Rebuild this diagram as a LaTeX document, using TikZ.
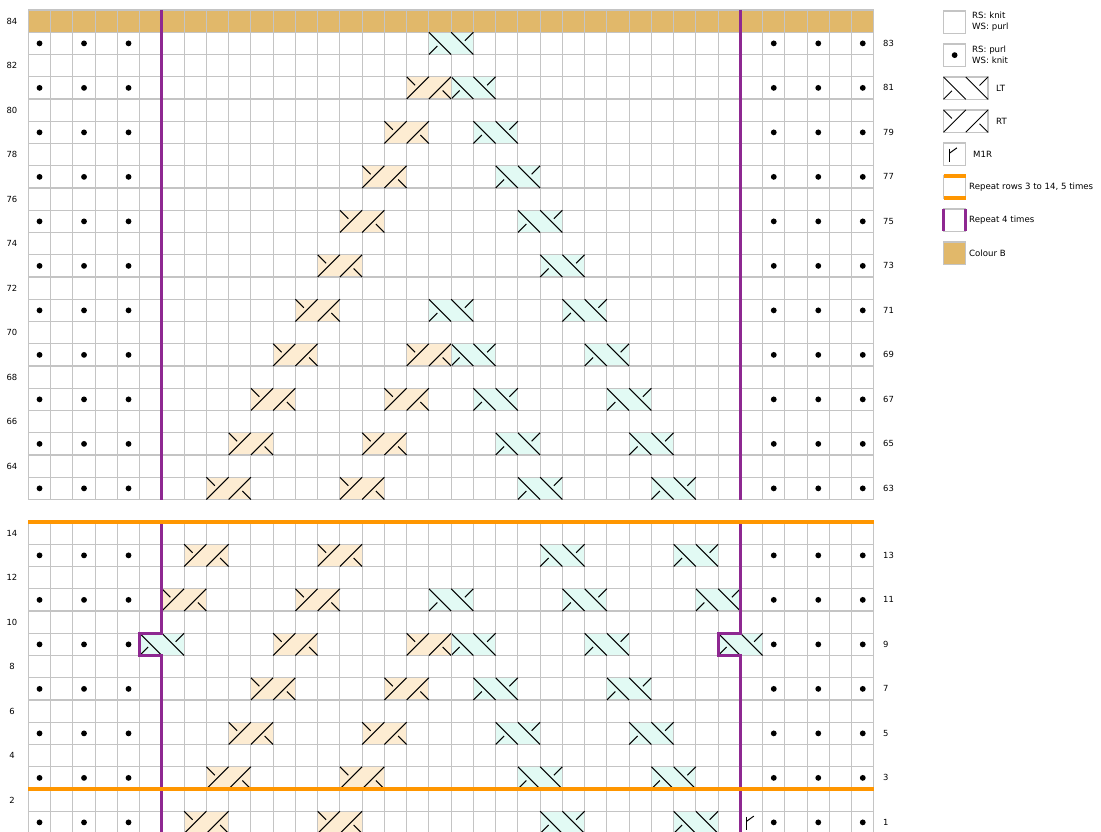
\documentclass[tikz,border=0pt]{standalone}
\usepackage{fontspec}
\setmainfont{DejaVu Sans}
\definecolor{gridgray}{RGB}{196,196,196}
\definecolor{colB}{RGB}{225,184,106}
\definecolor{ltfill}{RGB}{226,250,244}
\definecolor{rtfill}{RGB}{253,236,210}
\definecolor{rptpurple}{RGB}{142,40,145}
\definecolor{rptorange}{RGB}{255,150,0}
\def\W{22.25}
\def\XL{28.4}
\def\XR{873.9}
\tikzset{
  gridline/.style={draw=gridgray, line width=1.15pt},
  sym/.style={draw=black, line width=1pt},
  knitdot/.style={fill=black},
  rowlbl/.style={font=\fontsize{8.4}{10}\selectfont, inner sep=0pt},
  leglbl/.style={font=\fontsize{8.6}{11}\selectfont, inner sep=0pt, anchor=west, align=left},
  purpleline/.style={draw=rptpurple, line width=3pt},
  orangeline/.style={draw=rptorange, line width=3.5pt},
  ltcable/.pic={
    \fill[ltfill] (0,0) rectangle ({2*\W},\W);
    \draw[gridline] (0,0) rectangle ({2*\W},\W);
    \draw[sym] (0,0) -- (\W,\W);
    \draw[sym] (0,\W) -- ({0.38*\W},{0.62*\W});
    \draw[sym] (\W,0) -- ({2*\W},\W);
    \draw[sym] ({1.62*\W},{0.38*\W}) -- ({2*\W},0);
  },
  rtcable/.pic={
    \fill[rtfill] (0,0) rectangle ({2*\W},\W);
    \draw[gridline] (0,0) rectangle ({2*\W},\W);
    \draw[sym] (0,\W) -- (\W,0);
    \draw[sym] (0,0) -- ({0.38*\W},{0.38*\W});
    \draw[sym] (\W,\W) -- ({2*\W},0);
    \draw[sym] ({1.62*\W},{0.62*\W}) -- ({2*\W},\W);
  },
  ltsym/.pic={
    \draw[gridline] (0,0) rectangle ({2*\W},\W);
    \draw[sym] (0,0) -- (\W,\W);
    \draw[sym] (0,\W) -- ({0.38*\W},{0.62*\W});
    \draw[sym] (\W,0) -- ({2*\W},\W);
    \draw[sym] ({1.62*\W},{0.38*\W}) -- ({2*\W},0);
  },
  rtsym/.pic={
    \draw[gridline] (0,0) rectangle ({2*\W},\W);
    \draw[sym] (0,\W) -- (\W,0);
    \draw[sym] (0,0) -- ({0.38*\W},{0.38*\W});
    \draw[sym] (\W,\W) -- ({2*\W},0);
    \draw[sym] ({1.62*\W},{0.62*\W}) -- ({2*\W},\W);
  },
  mir/.pic={
    \draw[sym] ({0.28*\W},{0.25*\W}) -- ({0.28*\W},{0.85*\W});
    \draw[sym] ({0.28*\W},{0.45*\W}) -- ({0.6*\W},{0.22*\W});
  }
}
\begin{document}
\begin{tikzpicture}[x=1pt,y=-1pt]
\useasboundingbox (0,0) rectangle (1101,832);
\fill[white] (0,0) rectangle (1101,832);

% ---------- top section (rows 84..63) ----------
\fill[colB] (\XL,10) rectangle (\XR,{10+\W});
\foreach \k in {0,...,38}
  \draw[gridline] ({\XL+\k*\W},10) -- ({\XL+\k*\W},{10+22*\W});
\foreach \i in {0,...,22}
  \draw[gridline] (\XL,{10+\i*\W}) -- (\XR,{10+\i*\W});

% ---------- bottom section (rows 14..1) ----------
\foreach \k in {0,...,38}
  \draw[gridline] ({\XL+\k*\W},522) -- ({\XL+\k*\W},{522+14*\W});
\foreach \i in {0,...,14}
  \draw[gridline] (\XL,{522+\i*\W}) -- (\XR,{522+\i*\W});

% ---------- cables, top ----------
\foreach \r/\k in {83/18, 81/19, 79/20, 77/21, 75/22, 73/23,
                   71/18, 71/24, 69/19, 69/25, 67/20, 67/26,
                   65/21, 65/27, 63/22, 63/28}
  \pic at ({\XL+\k*\W},{10+(84-\r)*\W}) {ltcable};
\foreach \r/\k in {81/17, 79/16, 77/15, 75/14, 73/13, 71/12,
                   69/11, 69/17, 67/10, 67/16, 65/9, 65/15, 63/8, 63/14}
  \pic at ({\XL+\k*\W},{10+(84-\r)*\W}) {rtcable};

% ---------- cables, bottom ----------
\foreach \r/\k in {13/23, 13/29, 11/18, 11/24, 11/30,
                   9/5, 9/19, 9/25, 9/31, 7/20, 7/26,
                   5/21, 5/27, 3/22, 3/28, 1/23, 1/29}
  \pic at ({\XL+\k*\W},{522+(14-\r)*\W}) {ltcable};
\foreach \r/\k in {13/7, 13/13, 11/6, 11/12, 9/11, 9/17,
                   7/10, 7/16, 5/9, 5/15, 3/8, 3/14, 1/7, 1/13}
  \pic at ({\XL+\k*\W},{522+(14-\r)*\W}) {rtcable};
\pic at ({\XL+32*\W},{522+13*\W}) {mir};

% ---------- purl dots ----------
\foreach \r in {83,81,...,63}
  \foreach \k in {0,2,4,33,35,37}
    \fill[knitdot] ({\XL+(\k+0.5)*\W},{10+(84-\r+0.5)*\W}) circle (2.9);
\foreach \r in {13,11,...,1}
  \foreach \k in {0,2,4,33,35,37}
    \fill[knitdot] ({\XL+(\k+0.5)*\W},{522+(14-\r+0.5)*\W}) circle (2.9);

% ---------- repeat lines ----------
\draw[purpleline] ({\XL+6*\W},10) -- ({\XL+6*\W},{10+22*\W});
\draw[purpleline] ({\XL+32*\W},10) -- ({\XL+32*\W},{10+22*\W});
\draw[purpleline, line join=miter] ({\XL+6*\W},522) -- ({\XL+6*\W},{522+5*\W})
   -- ({\XL+5*\W},{522+5*\W}) -- ({\XL+5*\W},{522+6*\W})
   -- ({\XL+6*\W},{522+6*\W}) -- ({\XL+6*\W},840);
\draw[purpleline, line join=miter] ({\XL+32*\W},522) -- ({\XL+32*\W},{522+5*\W})
   -- ({\XL+31*\W},{522+5*\W}) -- ({\XL+31*\W},{522+6*\W})
   -- ({\XL+32*\W},{522+6*\W}) -- ({\XL+32*\W},840);
\draw[orangeline] (\XL,522) -- (\XR,522);
\draw[orangeline] (\XL,{522+12*\W}) -- (\XR,{522+12*\W});

% ---------- row numbers ----------
\foreach \r in {84,82,...,64}
  \node[rowlbl] (L\r) at (12,{10+(84-\r+0.5)*\W}) {\r};
\foreach \r in {83,81,...,63}
  \node[rowlbl, anchor=west] (R\r) at (883,{10+(84-\r+0.5)*\W}) {\r};
\foreach \r in {14,12,...,2}
  \node[rowlbl] (L\r) at (12,{522+(14-\r+0.5)*\W}) {\r};
\foreach \r in {13,11,...,1}
  \node[rowlbl, anchor=west] (R\r) at (883,{522+(14-\r+0.5)*\W}) {\r};

% ---------- legend ----------
\def\LX{943.5}
\draw[gridline] (\LX,11) rectangle ({\LX+\W},{11+\W});
\node[leglbl] (lg1) at (972,{11+\W/2}) {RS: knit\\WS: purl};
\draw[gridline] (\LX,44) rectangle ({\LX+\W},{44+\W});
\fill[knitdot] ({\LX+\W/2},{44+\W/2}) circle (2.9);
\node[leglbl] (lg2) at (972,{44+\W/2}) {RS: purl\\WS: knit};
\pic at (\LX,77) {ltsym};
\node[leglbl] (lg3) at (996,{77+\W/2}) {LT};
\pic at (\LX,110) {rtsym};
\node[leglbl] (lg4) at (996,{110+\W/2}) {RT};
\draw[gridline] (\LX,143) rectangle ({\LX+\W},{143+\W});
\pic at (\LX,143) {mir};
\node[leglbl] (lg5) at (973,{143+\W/2}) {M1R};
\draw[gridline] (\LX,176) rectangle ({\LX+\W},{176+\W});
\draw[orangeline] (\LX,176) -- ({\LX+\W},176);
\draw[orangeline] (\LX,{176+\W}) -- ({\LX+\W},{176+\W});
\node[leglbl] (lg6) at (969,{176+\W/2}) {Repeat rows 3 to 14, 5 times};
\draw[gridline] (\LX,209) rectangle ({\LX+\W},{209+\W});
\draw[purpleline] (\LX,209) -- (\LX,{209+\W});
\draw[purpleline] ({\LX+\W},209) -- ({\LX+\W},{209+\W});
\node[leglbl] (lg7) at (969,{209+\W/2}) {Repeat 4 times};
\fill[colB] (\LX,242) rectangle ({\LX+\W},{242+\W});
\draw[gridline] (\LX,242) rectangle ({\LX+\W},{242+\W});
\node[leglbl] (lg8) at (969,{242+\W/2}) {Colour B};
\end{tikzpicture}
\end{document}
